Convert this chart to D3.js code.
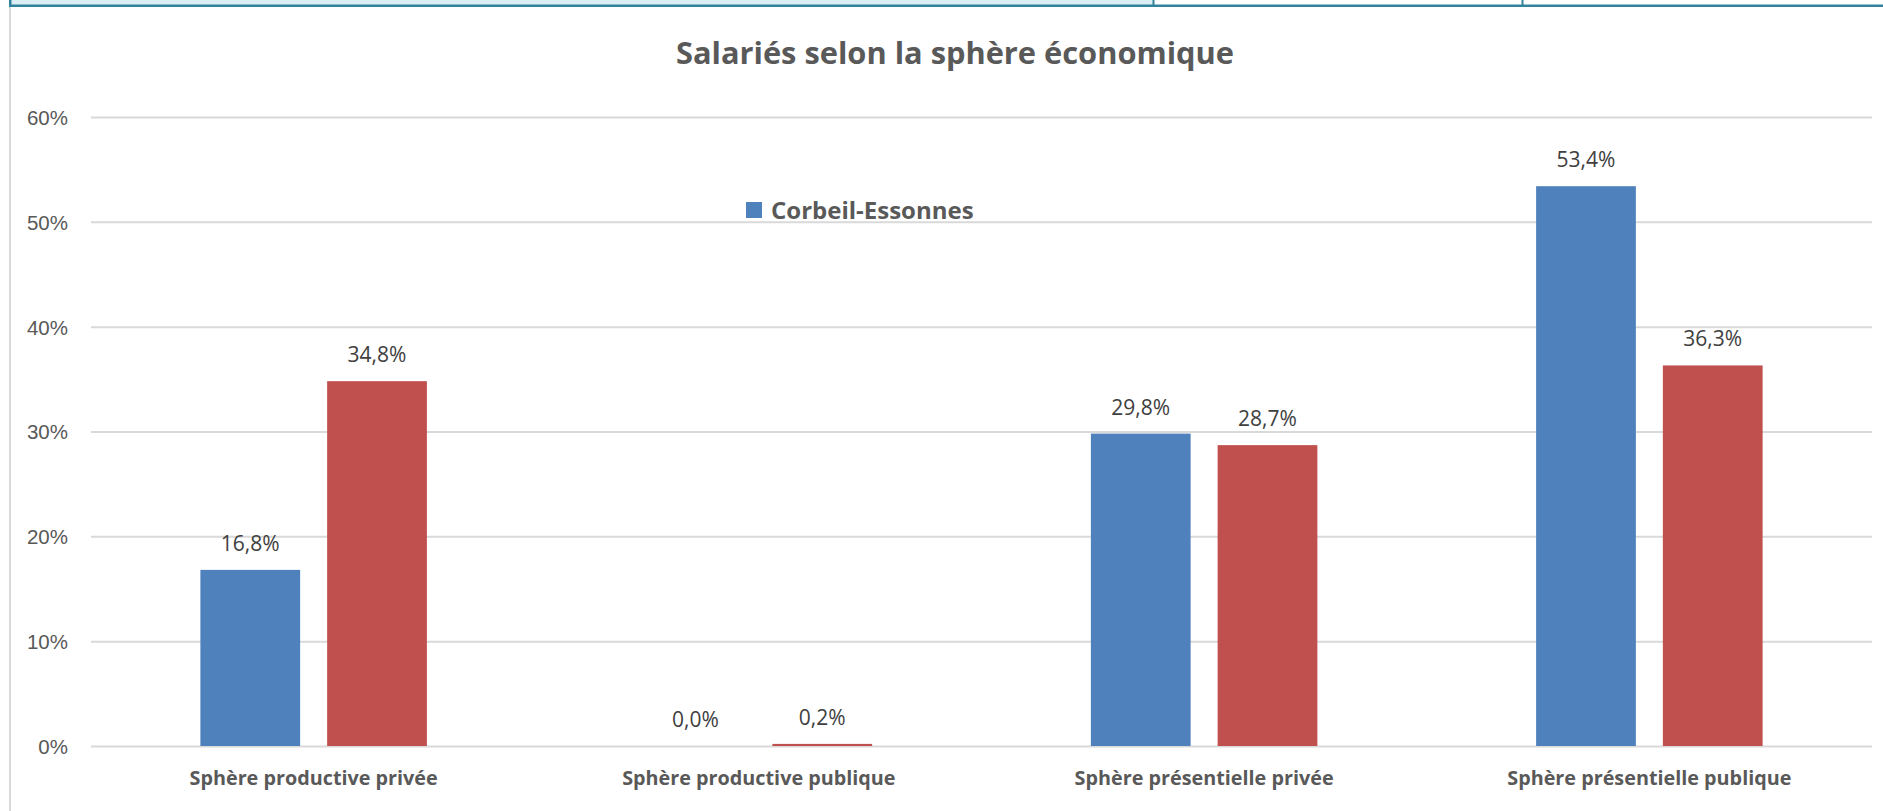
<!DOCTYPE html>
<html>
<head>
<meta charset="utf-8">
<script src="https://cdn.jsdelivr.net/npm/d3@7"></script>
<style>
    body { margin: 0; background: #fff; }
    svg { display: block; font-family: "Open Sans", "Noto Sans", sans-serif; }
    .grid line { stroke: #d9d9d9; stroke-width: 2; }
    .grid .domain { display: none; }
    .tick text { fill: #595959; font-size: 20.5px; }
    .label { fill: #404040; font-size: 21px; text-anchor: middle; }
    .cat { fill: #595959; font-size: 19.8px; font-weight: bold; text-anchor: middle; }
</style>
</head>
<body>
<div id="graph"></div>
<script>
// data
var categories = ["Sphère productive privée", "Sphère productive publique",
    "Sphère présentielle privée", "Sphère présentielle publique"];
var seriesNames = ["Corbeil-Essonnes", "Essonne"];
var corbeilValues = [16.8, 0.0, 29.8, 53.4];
var essonneValues = [34.8, 0.2, 28.7, 36.3];
var yTicks = [0, 10, 20, 30, 40, 50, 60];

var width = 1883, height = 811,
    margin = {top: 117, left: 91, bottom: 65, right: 11};

var svg = d3.select("#graph").append("svg")
    .attr("width", width)
    .attr("height", height);

// spreadsheet frame bits at the top / left
svg.append("rect").attr("x", 11).attr("y", 0).attr("width", 1142).attr("height", 5).attr("fill", "#daeef3");
svg.append("rect").attr("x", 9).attr("y", 0).attr("width", 2.5).attr("height", 7).attr("fill", "#31849b");
svg.append("rect").attr("x", 9).attr("y", 4.5).attr("width", width - 9).attr("height", 2.5).attr("fill", "#31849b");
svg.append("rect").attr("x", 1152.5).attr("y", 0).attr("width", 2).attr("height", 6).attr("fill", "#31849b");
svg.append("rect").attr("x", 1521.5).attr("y", 0).attr("width", 2).attr("height", 6).attr("fill", "#31849b");
svg.append("rect").attr("x", 9).attr("y", 7).attr("width", 2).attr("height", height - 7).attr("fill", "#d9d9d9");

var x0 = d3.scaleBand()
    .domain(categories)
    .range([margin.left, width - margin.right])
    .paddingInner(0.4913)
    .paddingOuter(0.2457);

var x1 = d3.scaleBand()
    .domain(seriesNames)
    .range([0, x0.bandwidth()])
    .paddingInner(0.213);

var y = d3.scaleLinear()
    .domain([0, 60])
    .range([746, margin.top]);

var colors = d3.scaleOrdinal()
    .domain(seriesNames)
    .range(["#4f81bd", "#c0504d"]);

// gridlines + y labels
var yAxis = d3.axisLeft(y)
    .tickValues(yTicks)
    .tickSize(-(width - margin.right - margin.left))
    .tickPadding(23)
    .tickFormat(function (d) {
        return d + "%";
    });

svg.append("g")
    .attr("class", "grid")
    .attr("transform", "translate(" + margin.left + ",0)")
    .call(yAxis)
    .selectAll("text")
    .attr("dy", "0.36em");

// title
svg.append("text")
    .attr("x", 955)
    .attr("y", 64)
    .attr("text-anchor", "middle")
    .attr("fill", "#595959")
    .style("font-size", "30.8px")
    .style("font-weight", "bold")
    .text("Salariés selon la sphère économique");

var rows = categories.map(function (c, i) {
    return [
        {cat: c, name: seriesNames[0], value: corbeilValues[i]},
        {cat: c, name: seriesNames[1], value: essonneValues[i]}
    ];
});

var groups = svg.selectAll("g.cat-group")
    .data(rows)
    .enter().append("g")
    .attr("class", "cat-group")
    .attr("transform", function (d) {
        return "translate(" + x0(d[0].cat) + ",0)";
    });

groups.selectAll("rect")
    .data(function (d) { return d; })
    .enter().append("rect")
    .attr("x", function (d) { return x1(d.name); })
    .attr("y", function (d) { return y(d.value); })
    .attr("width", x1.bandwidth())
    .attr("height", function (d) { return y(0) - y(d.value); })
    .attr("fill", function (d) { return colors(d.name); });

groups.selectAll("text.label")
    .data(function (d) { return d; })
    .enter().append("text")
    .attr("class", "label")
    .attr("x", function (d) { return x1(d.name) + x1.bandwidth() / 2; })
    .attr("y", function (d) { return y(d.value) - 19; })
    .text(function (d) { return d.value.toFixed(1).replace(".", ",") + "%"; });

// category labels
svg.selectAll("text.cat")
    .data(categories)
    .enter().append("text")
    .attr("class", "cat")
    .attr("x", function (d) { return x0(d) + x0.bandwidth() / 2; })
    .attr("y", 785)
    .text(function (d) { return d; });

// legend (only first series is shown in the source)
var legend = svg.append("g").attr("transform", "translate(746,202)");
legend.append("rect")
    .attr("width", 16)
    .attr("height", 16)
    .attr("fill", colors(seriesNames[0]));
legend.append("text")
    .attr("x", 25)
    .attr("y", 16.5)
    .attr("fill", "#595959")
    .style("font-size", "24px")
    .style("font-weight", "bold")
    .text(seriesNames[0]);
</script>
</body>
</html>
